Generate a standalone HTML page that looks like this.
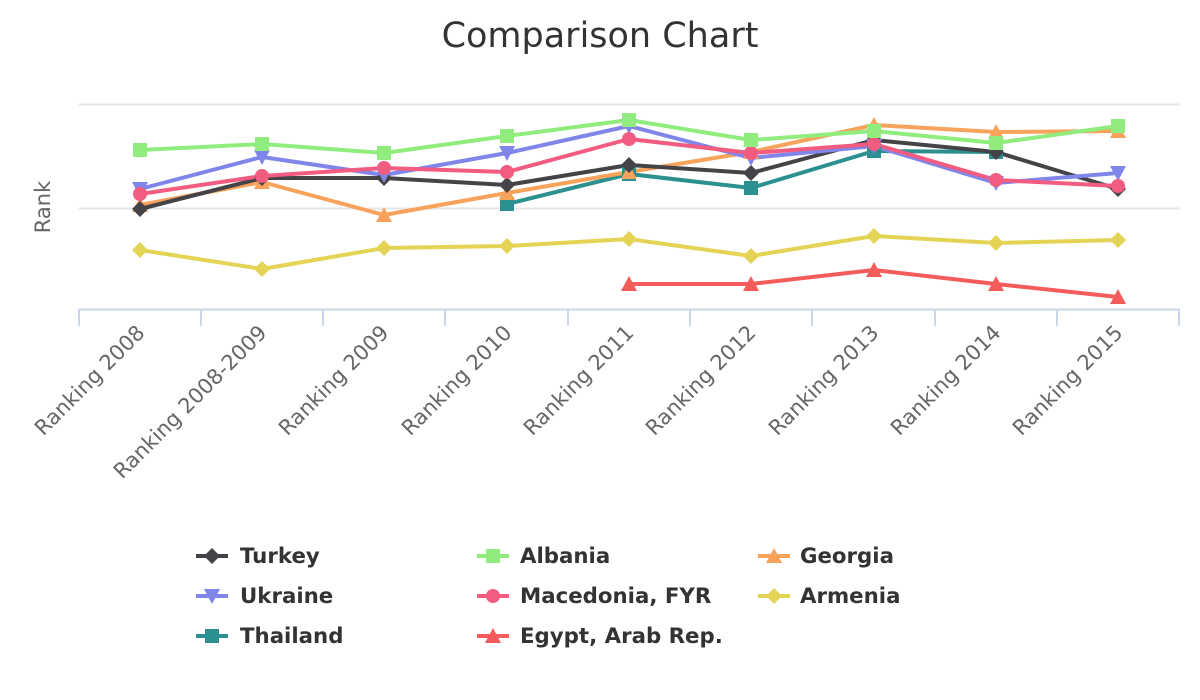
<!DOCTYPE html>
<html><head><meta charset="utf-8"><style>body{margin:0;background:#fff}svg{display:block}</style></head><body>
<svg width="1200" height="700" xmlns="http://www.w3.org/2000/svg" font-family="DejaVu Sans, Liberation Sans, sans-serif">
<rect width="1200" height="700" fill="#fff"/>
<text x="600" y="47" text-anchor="middle" font-size="35" fill="#333">Comparison Chart</text>
<text transform="translate(50,207) rotate(-90)" text-anchor="middle" font-size="21" fill="#666">Rank</text>
<line x1="79" y1="104.5" x2="1180" y2="104.5" stroke="#e6e6e6" stroke-width="2"/>
<line x1="79" y1="208.5" x2="1180" y2="208.5" stroke="#e6e6e6" stroke-width="2"/>
<line x1="79" y1="309.5" x2="1180" y2="309.5" stroke="#ccd6eb" stroke-width="2"/>
<g stroke="#ccd6eb" stroke-width="2">
<line x1="79" y1="309" x2="79" y2="326"/><line x1="201" y1="309" x2="201" y2="326"/><line x1="323" y1="309" x2="323" y2="326"/><line x1="445" y1="309" x2="445" y2="326"/><line x1="568" y1="309" x2="568" y2="326"/><line x1="690" y1="309" x2="690" y2="326"/><line x1="812" y1="309" x2="812" y2="326"/><line x1="935" y1="309" x2="935" y2="326"/><line x1="1057" y1="309" x2="1057" y2="326"/><line x1="1179" y1="309" x2="1179" y2="326"/>
</g>
<g font-size="21" fill="#666" text-anchor="end">
<text transform="translate(146,334) rotate(-45)">Ranking 2008</text>
<text transform="translate(268,334) rotate(-45)">Ranking 2008-2009</text>
<text transform="translate(390,334) rotate(-45)">Ranking 2009</text>
<text transform="translate(513,334) rotate(-45)">Ranking 2010</text>
<text transform="translate(635,334) rotate(-45)">Ranking 2011</text>
<text transform="translate(757,334) rotate(-45)">Ranking 2012</text>
<text transform="translate(880,334) rotate(-45)">Ranking 2013</text>
<text transform="translate(1002,334) rotate(-45)">Ranking 2014</text>
<text transform="translate(1124,334) rotate(-45)">Ranking 2015</text>
</g>
<defs>
<path id="dia" d="M0,-8 L8,0 L0,8 L-8,0Z"/>
<rect id="sq" x="-7" y="-7" width="14" height="14"/>
<path id="tri" d="M0,-8 L8,7 L-8,7Z"/>
<path id="tdn" d="M0,8 L8,-7 L-8,-7Z"/>
<circle id="cir" r="7"/>
</defs>
<g fill="none" stroke-width="4" stroke-linejoin="round">
<polyline stroke="#e4d354" points="140,250 262,269 384,248 507,246 629,239 751,256 874,236 996,243 1118,240"/>
<polyline stroke="#f45b5b" points="629,284 751,284 874,270 996,284 1118,297"/>
<polyline stroke="#2b908f" points="507,204 629,174 751,188 874,151 996,152"/>
<polyline stroke="#f7a35c" points="140,205 262,182 384,215 507,193 629,172 751,152 874,125 996,132 1118,131"/>
<polyline stroke="#434348" points="140,209 262,178 384,178 507,185 629,165 751,173 874,140 996,152 1118,189"/>
<polyline stroke="#8085e9" points="140,189 262,157 384,175 507,153 629,126 751,158 874,146 996,183 1118,173"/>
<polyline stroke="#f15c80" points="140,194 262,176 384,168 507,172 629,139 751,153 874,144 996,180 1118,186"/>
<polyline stroke="#90ed7d" points="140,150 262,144 384,153 507,136 629,120 751,140 874,131 996,143 1118,126"/>
</g>
<g fill="#e4d354"><use href="#dia" x="140" y="250"/><use href="#dia" x="262" y="269"/><use href="#dia" x="384" y="248"/><use href="#dia" x="507" y="246"/><use href="#dia" x="629" y="239"/><use href="#dia" x="751" y="256"/><use href="#dia" x="874" y="236"/><use href="#dia" x="996" y="243"/><use href="#dia" x="1118" y="240"/></g>
<g fill="#f45b5b"><use href="#tri" x="629" y="284"/><use href="#tri" x="751" y="284"/><use href="#tri" x="874" y="270"/><use href="#tri" x="996" y="284"/><use href="#tri" x="1118" y="297"/></g>
<g fill="#2b908f"><use href="#sq" x="507" y="204"/><use href="#sq" x="629" y="174"/><use href="#sq" x="751" y="188"/><use href="#sq" x="874" y="151"/><use href="#sq" x="996" y="152"/></g>
<g fill="#f7a35c"><use href="#tri" x="140" y="205"/><use href="#tri" x="262" y="182"/><use href="#tri" x="384" y="215"/><use href="#tri" x="507" y="193"/><use href="#tri" x="629" y="172"/><use href="#tri" x="751" y="152"/><use href="#tri" x="874" y="125"/><use href="#tri" x="996" y="132"/><use href="#tri" x="1118" y="131"/></g>
<g fill="#434348"><use href="#dia" x="140" y="209"/><use href="#dia" x="262" y="178"/><use href="#dia" x="384" y="178"/><use href="#dia" x="507" y="185"/><use href="#dia" x="629" y="165"/><use href="#dia" x="751" y="173"/><use href="#dia" x="874" y="140"/><use href="#dia" x="996" y="152"/><use href="#dia" x="1118" y="189"/></g>
<g fill="#8085e9"><use href="#tdn" x="140" y="189"/><use href="#tdn" x="262" y="157"/><use href="#tdn" x="384" y="175"/><use href="#tdn" x="507" y="153"/><use href="#tdn" x="629" y="126"/><use href="#tdn" x="751" y="158"/><use href="#tdn" x="874" y="146"/><use href="#tdn" x="996" y="183"/><use href="#tdn" x="1118" y="173"/></g>
<g fill="#f15c80"><use href="#cir" x="140" y="194"/><use href="#cir" x="262" y="176"/><use href="#cir" x="384" y="168"/><use href="#cir" x="507" y="172"/><use href="#cir" x="629" y="139"/><use href="#cir" x="751" y="153"/><use href="#cir" x="874" y="144"/><use href="#cir" x="996" y="180"/><use href="#cir" x="1118" y="186"/></g>
<g fill="#90ed7d"><use href="#sq" x="140" y="150"/><use href="#sq" x="262" y="144"/><use href="#sq" x="384" y="153"/><use href="#sq" x="507" y="136"/><use href="#sq" x="629" y="120"/><use href="#sq" x="751" y="140"/><use href="#sq" x="874" y="131"/><use href="#sq" x="996" y="143"/><use href="#sq" x="1118" y="126"/></g>
<g stroke-width="4">
<line x1="196" y1="556" x2="228" y2="556" stroke="#434348"/><use href="#dia" x="212" y="556" fill="#434348"/>
<line x1="477" y1="556" x2="509" y2="556" stroke="#90ed7d"/><use href="#sq" x="493" y="556" fill="#90ed7d"/>
<line x1="758" y1="556" x2="790" y2="556" stroke="#f7a35c"/><use href="#tri" x="774" y="556" fill="#f7a35c"/>
<line x1="196" y1="596" x2="228" y2="596" stroke="#8085e9"/><use href="#tdn" x="212" y="596" fill="#8085e9"/>
<line x1="477" y1="596" x2="509" y2="596" stroke="#f15c80"/><use href="#cir" x="493" y="596" fill="#f15c80"/>
<line x1="758" y1="596" x2="790" y2="596" stroke="#e4d354"/><use href="#dia" x="774" y="596" fill="#e4d354"/>
<line x1="196" y1="636" x2="228" y2="636" stroke="#2b908f"/><use href="#sq" x="212" y="636" fill="#2b908f"/>
<line x1="477" y1="636" x2="509" y2="636" stroke="#f45b5b"/><use href="#tri" x="493" y="636" fill="#f45b5b"/>
</g>
<g font-size="21.3" font-weight="bold" fill="#333">
<text x="240" y="563">Turkey</text><text x="520" y="563">Albania</text><text x="800" y="563">Georgia</text>
<text x="240" y="603">Ukraine</text><text x="520" y="603">Macedonia, FYR</text><text x="800" y="603">Armenia</text>
<text x="240" y="643">Thailand</text><text x="520" y="643">Egypt, Arab Rep.</text>
</g>
</svg>
</body></html>
